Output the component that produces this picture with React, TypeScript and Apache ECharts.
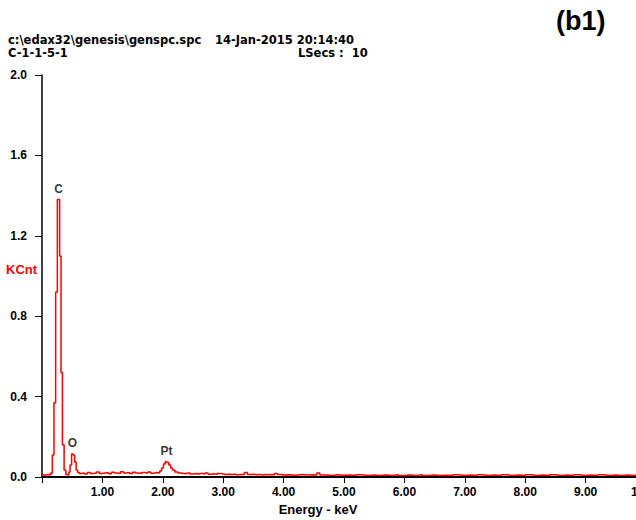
import React, { useEffect, useRef } from "react";
import * as echarts from "echarts";

// Spectrum channels: left edge of each step (keV) and counts (KCnt)
const energyKeV = [
  0.0, 0.06, 0.12, 0.145, 0.171, 0.198, 0.226, 0.254, 0.292, 0.315, 0.338, 0.366, 0.394, 0.42,
  0.445, 0.465, 0.49, 0.515, 0.54, 0.565, 0.59, 0.62,
  0.65, 0.7, 0.75, 0.8, 0.85, 0.9, 0.95, 1.0, 1.05, 1.1, 1.15, 1.2, 1.25, 1.3, 1.35, 1.4, 1.45,
  1.5, 1.55, 1.6, 1.65, 1.7, 1.75, 1.8, 1.85, 1.9, 1.95, 1.98, 2.01, 2.04, 2.07, 2.1, 2.13, 2.16,
  2.2, 2.25, 2.3, 2.35, 2.4, 2.45, 2.5, 2.55, 2.6, 2.65, 2.7, 2.75, 2.8, 2.85, 2.9, 2.95,
  3.0, 3.05, 3.1, 3.15, 3.2, 3.25, 3.3, 3.35, 3.4, 3.45, 3.5, 3.55, 3.6, 3.65, 3.7, 3.75, 3.8,
  3.85, 3.9, 3.95,
  4.0, 4.1, 4.2, 4.3, 4.4, 4.5, 4.55, 4.6, 4.7, 4.8, 4.9, 5.0, 5.1, 5.2, 5.3, 5.4, 5.5, 5.6, 5.7,
  5.8, 5.9, 6.0, 6.1, 6.2, 6.3, 6.4, 6.5, 6.6, 6.7, 6.8, 6.9, 7.0, 7.1, 7.2, 7.3, 7.4, 7.5, 7.6,
  7.7, 7.8, 7.9, 8.0, 8.1, 8.2, 8.3, 8.4, 8.5, 8.6, 8.7, 8.8, 8.9, 9.0, 9.1, 9.2, 9.3, 9.4, 9.5,
  9.6, 9.7, 9.8, 9.9,
];
const kcnt = [
  0.01, 0.012, 0.01, 0.02, 0.11, 0.37, 0.92, 1.38, 1.1, 0.52, 0.16, 0.035, 0.012, 0.01,
  0.025, 0.06, 0.115, 0.11, 0.075, 0.035, 0.022, 0.018,
  0.02, 0.015, 0.022, 0.018, 0.02, 0.025, 0.018, 0.02, 0.022, 0.016, 0.024, 0.02, 0.018, 0.026, 0.02, 0.022, 0.017,
  0.024, 0.02, 0.018, 0.022, 0.02, 0.025, 0.019, 0.022, 0.02, 0.03, 0.045, 0.065, 0.076, 0.072, 0.06, 0.045, 0.035,
  0.025, 0.02, 0.018, 0.016, 0.02, 0.015, 0.017, 0.014, 0.018, 0.015, 0.02, 0.014, 0.016, 0.013, 0.018, 0.015,
  0.012, 0.014, 0.012, 0.015, 0.011, 0.013, 0.012, 0.022, 0.012, 0.014, 0.011, 0.013, 0.01, 0.012, 0.011, 0.013, 0.011,
  0.018, 0.012, 0.01,
  0.011, 0.009, 0.012, 0.01, 0.011, 0.009, 0.02, 0.01, 0.008, 0.011, 0.009, 0.01, 0.007, 0.011, 0.008, 0.01, 0.007, 0.01, 0.008,
  0.011, 0.007, 0.01, 0.008, 0.011, 0.007, 0.01, 0.008, 0.009, 0.007, 0.011, 0.008, 0.01, 0.007, 0.011, 0.008, 0.01, 0.007, 0.011,
  0.008, 0.01, 0.007, 0.011, 0.008, 0.01, 0.007, 0.011, 0.008, 0.01, 0.007, 0.011, 0.008, 0.01, 0.007, 0.011, 0.008, 0.01, 0.007,
  0.01, 0.008, 0.009, 0.007,
];

const peakNames = ["C", "O", "Pt"];
const peakEnergy = [0.273, 0.505, 2.06];
const peakHeight = [1.38, 0.115, 0.076];

const xMin = 0;
const xMax = 10;
const xStep = 1;
const yMin = 0;
const yMax = 2.0;
const yStep = 0.4;

const headerPath = "c:\\edax32\\genesis\\genspc.spc";
const headerDate = "14-Jan-2015 20:14:40";
const sampleName = "C-1-1-5-1";
const liveSecs = "LSecs :  10";
const panelTag = "(b1)";
const yName = "KCnt";
const xName = "Energy - keV";

export default function App() {
  const ref = useRef<HTMLDivElement>(null);
  useEffect(() => {
    const chart = echarts.init(ref.current!, null, { renderer: "svg" });
    const F = "'Liberation Sans', Arial, sans-serif";
    const H = "'DejaVu Sans', sans-serif";
    const bold = { fontFamily: F, fontWeight: "bold" as const, color: "#000" };
    chart.setOption({
      animation: false,
      backgroundColor: "#ffffff",
      grid: { left: 42, right: -10, top: 75, bottom: 43, outerBoundsMode: "none", containLabel: false },
      xAxis: {
        type: "value",
        min: xMin,
        max: xMax,
        interval: xStep,
        axisLine: { show: true, lineStyle: { color: "#000", width: 2 } },
        axisTick: { show: true, length: 6, lineStyle: { color: "#000", width: 1 } },
        splitLine: { show: false },
        axisLabel: {
          ...bold,
          fontSize: 12,
          margin: 9,
          formatter: (v: number) => (v === 0 ? "" : v.toFixed(2)),
        },
        name: xName,
        nameLocation: "middle",
        nameGap: 22,
        nameTextStyle: { ...bold, fontSize: 13, padding: [0, 52, 0, 0] },
      },
      yAxis: {
        type: "value",
        min: yMin,
        max: yMax,
        interval: yStep,
        axisLine: { show: true, lineStyle: { color: "#000", width: 1.5 } },
        axisTick: { show: true, length: 7, lineStyle: { color: "#000", width: 1 } },
        splitLine: { show: false },
        axisLabel: {
          ...bold,
          fontSize: 12,
          margin: 15,
          formatter: (v: number) => v.toFixed(1),
        },
      },
      series: [
        {
          type: "line",
          step: "end",
          symbol: "none",
          silent: true,
          data: energyKeV.map((e, i) => [e, kcnt[i]]),
          lineStyle: { color: "#ff0000", width: 1.5 },
        },
        {
          type: "scatter",
          symbolSize: 1,
          silent: true,
          itemStyle: { color: "rgba(0,0,0,0)" },
          data: peakNames.map((n, i) => ({ name: n, value: [peakEnergy[i], peakHeight[i]] })),
          label: {
            show: true,
            position: "top",
            distance: 4,
            formatter: "{b}",
            ...bold,
            fontSize: 12,
          },
        },
      ],
      graphic: [
        { type: "text", left: 8, top: 34, style: { text: headerPath, font: `bold 11.5px ${H}`, fill: "#000" } },
        { type: "text", right: 282, top: 34, style: { text: headerDate, font: `bold 11.5px ${H}`, fill: "#000" } },
        { type: "text", left: 8, top: 47, style: { text: sampleName, font: `bold 11.5px ${H}`, fill: "#000" } },
        { type: "text", left: 298, top: 47, style: { text: liveSecs, font: `bold 11.5px ${H}`, fill: "#000" } },
        { type: "text", left: 556, top: 7, style: { text: panelTag, font: `bold 27px ${F}`, fill: "#000" } },
        { type: "text", left: 6, top: 263, style: { text: yName, font: `bold 13px ${F}`, fill: "#ff0000" } },
      ],
    });
    return () => chart.dispose();
  }, []);
  return <div ref={ref} style={{ position: "fixed", left: 0, top: 0, width: 636, height: 520 }} />;
}
